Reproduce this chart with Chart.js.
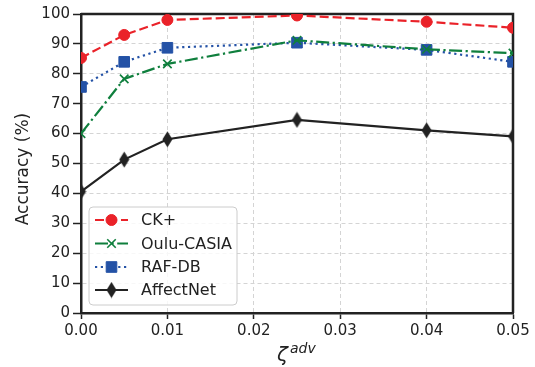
<!DOCTYPE html>
<html>
<head>
<meta charset="utf-8">
<script src="https://cdn.jsdelivr.net/npm/chart.js@4/dist/chart.umd.min.js"></script>
<style>
  html, body { margin: 0; padding: 0; background: #fff; }
  #wrap { width: 535px; height: 367px; }
</style>
</head>
<body>
<div id="wrap"><canvas id="chart" width="535" height="367"></canvas></div>
<script>
// --- Data ---
const zetaValues = [0, 0.005, 0.01, 0.025, 0.04, 0.05];
const ckPlus     = [85.3, 93.0, 98.0, 99.5, 97.4, 95.4];
const ouluCasia  = [60.0, 78.3, 83.3, 91.2, 88.2, 86.9];
const rafDb      = [75.6, 84.0, 88.7, 90.4, 88.0, 84.0];
const affectNet  = [40.6, 51.3, 58.1, 64.6, 61.1, 59.1];
const seriesNames = ['CK+', 'Oulu-CASIA', 'RAF-DB', 'AffectNet'];
const xTickValues = [0, 0.01, 0.02, 0.03, 0.04, 0.05];
const yTickValues = [0, 10, 20, 30, 40, 50, 60, 70, 80, 90, 100];

const FONT = "'DejaVu Sans', sans-serif";
const INK = '#222222';

// --- Thin diamond marker (matplotlib 'd') ---
function makeThinDiamond(color, w, h) {
    const c = document.createElement('canvas');
    c.width = w; c.height = h;
    const g = c.getContext('2d');
    g.fillStyle = color;
    g.beginPath();
    g.moveTo(w / 2, 0.5);
    g.lineTo(w - 0.5, h / 2);
    g.lineTo(w / 2, h - 0.5);
    g.lineTo(0.5, h / 2);
    g.closePath();
    g.fill();
    return c;
}
const diamond = makeThinDiamond(INK, 11, 17);

function toPoints(values) {
    return zetaValues.map((x, i) => ({ x: x, y: values[i] }));
}

const datasets = [
    { label: seriesNames[0], data: toPoints(ckPlus), borderColor: '#ea2229', backgroundColor: '#ea2229',
      borderDash: [9, 4], pointStyle: 'circle', pointRadius: 5.5, pointBorderWidth: 1 },
    { label: seriesNames[1], data: toPoints(ouluCasia), borderColor: '#0f7f3d', backgroundColor: '#0f7f3d',
      borderDash: [13, 3.5, 2.2, 3.5], pointStyle: 'crossRot', pointRadius: 6, pointBorderWidth: 1.6 },
    { label: seriesNames[2], data: toPoints(rafDb), borderColor: '#2452a6', backgroundColor: '#2452a6',
      borderDash: [2.2, 3.6], pointStyle: 'rect', pointRadius: 7.5, pointBorderWidth: 1 },
    { label: seriesNames[3], data: toPoints(affectNet), borderColor: INK, backgroundColor: INK,
      borderDash: [], pointStyle: diamond, pointRadius: 8, pointBorderWidth: 1 }
];
datasets.forEach(d => { d.borderWidth = 2.2; d.tension = 0; d.pointHoverRadius = d.pointRadius; });

// --- Frame (top/right spines), legend and axis titles ---
const decorations = {
    id: 'decorations',
    beforeDatasetsDraw(chart) {
        const { ctx, chartArea: a } = chart;
        ctx.save();
        ctx.strokeStyle = INK;
        ctx.lineWidth = 2.5;
        ctx.beginPath();
        ctx.moveTo(a.left, a.top);
        ctx.lineTo(a.right, a.top);
        ctx.lineTo(a.right, a.bottom);
        ctx.stroke();
        ctx.restore();
    },
    afterDatasetsDraw(chart) {
        const { ctx } = chart;
        ctx.save();
        // legend box
        const bx = 89, by = 207, bw = 148, bh = 98, r = 4;
        ctx.beginPath();
        ctx.roundRect(bx, by, bw, bh, r);
        ctx.fillStyle = 'rgba(255,255,255,0.8)';
        ctx.fill();
        ctx.strokeStyle = '#cccccc';
        ctx.lineWidth = 1;
        ctx.stroke();

        const rowY = [220, 243.5, 267, 290];
        chart.data.datasets.forEach((ds, i) => {
            const y = rowY[i];
            ctx.strokeStyle = ds.borderColor;
            ctx.lineWidth = ds.borderWidth;
            ctx.setLineDash(ds.borderDash);
            ctx.beginPath();
            ctx.moveTo(95, y);
            ctx.lineTo(128, y);
            ctx.stroke();
            ctx.setLineDash([]);
            // marker, same style as on the plot
            ctx.fillStyle = ds.backgroundColor;
            ctx.lineWidth = ds.pointBorderWidth;
            Chart.helpers.drawPoint(ctx, {
                pointStyle: ds.pointStyle, radius: ds.pointRadius, borderWidth: ds.pointBorderWidth, rotation: 0
            }, 111.5, y);
            ctx.fillStyle = INK;
            ctx.font = '16px ' + FONT;
            ctx.textAlign = 'left';
            ctx.textBaseline = 'middle';
            ctx.fillText(ds.label, 141, y + 1);
        });

        // y title
        ctx.fillStyle = INK;
        ctx.font = '17px ' + FONT;
        ctx.textAlign = 'center';
        ctx.textBaseline = 'middle';
        ctx.translate(24, 169);
        ctx.rotate(-Math.PI / 2);
        ctx.fillText('Accuracy (%)', 0, 0);
        ctx.restore();

        // x title: zeta^adv
        ctx.save();
        ctx.fillStyle = INK;
        ctx.textAlign = 'left';
        ctx.textBaseline = 'alphabetic';
        ctx.font = 'italic 20px ' + FONT;
        ctx.fillText('\u03B6', 277, 361);
        ctx.font = 'italic 14px ' + FONT;
        ctx.fillText('adv', 290, 353);
        ctx.restore();
    }
};

const ctx = document.getElementById('chart').getContext('2d');
new Chart(ctx, {
    type: 'line',
    data: { datasets: datasets },
    options: {
        responsive: false,
        animation: false,
        events: [],
        layout: { padding: { left: 0, right: 22, top: 14, bottom: 0 } },
        plugins: { legend: { display: false }, tooltip: { enabled: false } },
        scales: {
            x: {
                type: 'linear',
                min: 0, max: 0.05,
                afterFit: (s) => { s.height = 54; },
                afterBuildTicks: (s) => { s.ticks = xTickValues.map(v => ({ value: v })); },
                ticks: {
                    color: INK, font: { family: FONT, size: 15 }, padding: 3,
                    maxRotation: 0, autoSkip: false,
                    callback: (v) => Number(v).toFixed(2)
                },
                grid: {
                    color: '#d4d4d4', lineWidth: 1,
                    tickLength: 6, tickColor: INK, tickWidth: 1.5, tickBorderDash: []
                },
                border: { display: true, color: INK, width: 2.5, dash: [4, 3] }
            },
            y: {
                min: 0, max: 100,
                afterFit: (s) => { s.width = 81; },
                afterBuildTicks: (s) => { s.ticks = yTickValues.map(v => ({ value: v })); },
                ticks: {
                    color: INK, font: { family: FONT, size: 15 }, padding: 3, autoSkip: false
                },
                grid: {
                    color: '#d4d4d4', lineWidth: 1,
                    tickLength: 8, tickColor: INK, tickWidth: 1.5, tickBorderDash: []
                },
                border: { display: true, color: INK, width: 2.5, dash: [4, 3] }
            }
        }
    },
    plugins: [decorations]
});
</script>
</body>
</html>
